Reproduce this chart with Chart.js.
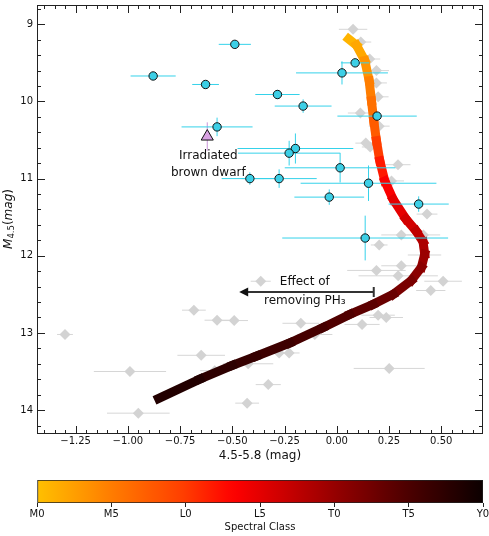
<!DOCTYPE html>
<html>
<head>
<meta charset="utf-8">
<script src="https://cdn.jsdelivr.net/npm/chart.js@4.4.1/dist/chart.umd.min.js"></script>
<style>
  body { margin: 0; background: #fff; overflow: hidden; }
  canvas { display: block; }
</style>
</head>
<body>
<canvas id="main" width="489" height="470"></canvas>
<canvas id="cbar" width="495" height="66"></canvas>
<script>
// observed objects (cyan circles)
const obsX    = [-0.488, -0.879, -0.628, -0.573, 0.088, 0.025, -0.284, -0.161, 0.193, -0.198, -0.228, 0.016, -0.416, -0.276, 0.152, -0.036, 0.392, 0.136];
const obsY    = [9.26, 9.67, 9.78, 10.33, 9.50, 9.63, 9.91, 10.06, 10.19, 10.61, 10.67, 10.86, 11.00, 11.00, 11.06, 11.24, 11.33, 11.77];
const obsXErr = [0.077, 0.108, 0.064, 0.17, 0.068, 0.22, 0.106, 0.136, 0.19, 0.277, 0.245, 0.265, 0.135, 0.18, 0.325, 0.167, 0.144, 0.397];
const obsYErr = [0.03, 0.035, 0.03, 0.12, 0.05, 0.15, 0.06, 0.087, 0.04, 0.195, 0.16, 0.19, 0.08, 0.12, 0.23, 0.1, 0.1, 0.29];

// field brown dwarfs (grey diamonds)
const fieldX    = [0.078, 0.115, 0.158, 0.19, 0.19, 0.198, 0.113, 0.203, 0.139, 0.16, 0.293, 0.262, 0.432, 0.309, 0.415, 0.203, 0.420, 0.309, 0.19, 0.294, 0.509, 0.45, -0.364, 0.198, 0.237, -0.172, 0.121, -0.105, -0.276, -0.228, -0.424, 0.251, -0.328, -0.429, -0.684, -0.573, -0.491, -1.301, -0.649, -0.99, -0.584, -0.95];
const fieldY    = [9.065, 9.23, 9.45, 9.60, 9.76, 9.94, 10.15, 10.32, 10.54, 10.59, 10.82, 11.03, 11.46, 11.73, 11.73, 11.86, 11.99, 12.13, 12.19, 12.26, 12.33, 12.45, 12.33, 12.77, 12.80, 12.875, 12.89, 13.02, 13.26, 13.26, 13.40, 13.46, 13.67, 13.91, 12.705, 12.835, 12.84, 13.02, 13.29, 13.50, 13.49, 14.04];
const fieldXErr = [0.068, 0.05, 0.05, 0.06, 0.05, 0.05, 0.06, 0.05, 0.05, 0.04, 0.06, 0.06, 0.05, 0.096, 0.08, 0.04, 0.08, 0.096, 0.14, 0.19, 0.09, 0.07, 0.048, 0.08, 0.08, 0.088, 0.084, 0.084, 0.05, 0.05, 0.12, 0.17, 0.06, 0.057, 0.057, 0.06, 0.066, 0.038, 0.114, 0.173, 0.07, 0.15];

// irradiated brown dwarf
const irrX = [-0.62];
const irrY = [10.455];
const irrYErr = [0.184];

// model sequence, spectral class 0 = M0 ... 6 = Y0
const seqX   = [0.057, 0.094, 0.134, 0.155, 0.166, 0.177, 0.19, 0.206, 0.23, 0.27, 0.33, 0.38, 0.413, 0.421, 0.405, 0.357, 0.27, 0.174, 0.062, -0.065, -0.225, -0.384, -0.5, -0.656, -0.853];
const seqY   = [9.19, 9.27, 9.47, 9.73, 9.99, 10.25, 10.51, 10.77, 11.03, 11.27, 11.52, 11.68, 11.82, 11.98, 12.15, 12.32, 12.5, 12.63, 12.76, 12.93, 13.13, 13.30, 13.42, 13.6, 13.85];
const seqSpt = [0.1, 0.25, 0.5, 0.85, 1.1, 1.3, 1.75, 2.2, 2.55, 2.85, 3.1, 3.35, 3.6, 3.85, 4.05, 4.25, 4.5, 4.7, 4.85, 5.0, 5.15, 5.3, 5.4, 5.55, 5.75];

const sptLabels = ['M0', 'M5', 'L0', 'L5', 'T0', 'T5', 'Y0'];

// colormap
const cmapPos = [0, 0.166, 0.333, 0.44, 0.5, 0.667, 0.833, 1];
const cmapRgb = [[255,192,0],[255,125,0],[255,60,0],[255,0,0],[228,0,0],[150,0,0],[75,0,0],[12,0,0]];
function cmap(t) {
  t = Math.min(1, Math.max(0, t));
  let i = 1;
  while (i < cmapPos.length - 1 && t > cmapPos[i]) i++;
  const f = (t - cmapPos[i-1]) / (cmapPos[i] - cmapPos[i-1]);
  const c = cmapRgb[i-1].map((v, k) => Math.round(v + f * (cmapRgb[i][k] - v)));
  return `rgb(${c[0]},${c[1]},${c[2]})`;
}

Chart.defaults.font.family = '"DejaVu Sans", sans-serif';
Chart.defaults.font.size = 10;
Chart.defaults.color = '#111';

const pts = (xs, ys) => xs.map((x, i) => ({x: x, y: ys[i]}));

// error bars are drawn right before their own dataset
const errorBars = {
  id: 'errorBars',
  beforeDatasetDraw(chart, args) {
    const ds = chart.data.datasets[args.index];
    if (!ds.xErr && !ds.yErr) return;
    const {ctx, scales: {x, y}} = chart;
    ctx.save();
    ctx.strokeStyle = ds.errColor;
    ctx.lineWidth = 1;
    ds.data.forEach((p, i) => {
      const px = x.getPixelForValue(p.x), py = y.getPixelForValue(p.y);
      ctx.beginPath();
      if (ds.xErr && ds.xErr[i]) {
        ctx.moveTo(x.getPixelForValue(p.x - ds.xErr[i]), py);
        ctx.lineTo(x.getPixelForValue(p.x + ds.xErr[i]), py);
      }
      if (ds.yErr && ds.yErr[i]) {
        ctx.moveTo(px, y.getPixelForValue(p.y - ds.yErr[i]));
        ctx.lineTo(px, y.getPixelForValue(p.y + ds.yErr[i]));
      }
      ctx.stroke();
    });
    ctx.restore();
  }
};

const minorX = 0.05, minorY = 0.2;

const decorations = {
  id: 'decorations',
  afterDatasetsDraw(chart) {
    const {ctx, scales: {x, y}} = chart;
    ctx.save();
    ctx.fillStyle = '#111';
    ctx.font = '12px "DejaVu Sans"';
    ctx.textAlign = 'center';
    ctx.textBaseline = 'middle';
    ctx.fillText('Irradiated', x.getPixelForValue(-0.615), y.getPixelForValue(10.71));
    ctx.fillText('brown dwarf', x.getPixelForValue(-0.615), y.getPixelForValue(10.92));
    ctx.fillText('Effect of', x.getPixelForValue(-0.153), y.getPixelForValue(12.34));
    ctx.fillText('removing PH\u2083', x.getPixelForValue(-0.153), y.getPixelForValue(12.59));

    // arrow
    const ay = y.getPixelForValue(12.47);
    const x0 = x.getPixelForValue(0.177), x1 = x.getPixelForValue(-0.467);
    ctx.strokeStyle = '#333';
    ctx.fillStyle = '#111';
    ctx.lineWidth = 2;
    ctx.beginPath();
    ctx.moveTo(x0, ay); ctx.lineTo(x1 + 6, ay);
    ctx.moveTo(x0, ay - 5); ctx.lineTo(x0, ay + 5);
    ctx.stroke();
    ctx.beginPath();
    ctx.moveTo(x1, ay); ctx.lineTo(x1 + 9, ay - 4.5); ctx.lineTo(x1 + 9, ay + 4.5);
    ctx.closePath();
    ctx.fill();
    ctx.restore();
  },
  afterDraw(chart) {
    const {ctx, chartArea: a, scales: {x, y}} = chart;
    ctx.save();
    ctx.strokeStyle = '#222';
    ctx.lineWidth = 1;
    ctx.strokeRect(a.left + 0.5, a.top + 0.5, a.right - a.left - 1, a.bottom - a.top - 1);
    ctx.beginPath();
    const xt = (v, len) => {
      const p = Math.round(x.getPixelForValue(v)) + 0.5;
      ctx.moveTo(p, a.bottom); ctx.lineTo(p, a.bottom - len);
      ctx.moveTo(p, a.top); ctx.lineTo(p, a.top + len);
    };
    const yt = (v, len) => {
      const p = Math.round(y.getPixelForValue(v)) + 0.5;
      ctx.moveTo(a.left, p); ctx.lineTo(a.left + len, p);
      ctx.moveTo(a.right, p); ctx.lineTo(a.right - len, p);
    };
    x.ticks.forEach(t => xt(t.value, 8));
    y.ticks.forEach(t => yt(t.value, 8));
    for (let k = Math.ceil(x.min / minorX); k <= Math.floor(x.max / minorX); k++) {
      if (k % 5 !== 0) xt(k * minorX, 4);
    }
    for (let k = Math.ceil(y.min / minorY); k <= Math.floor(y.max / minorY); k++) {
      if (k % 5 !== 0) yt(k * minorY, 4);
    }
    ctx.stroke();

    // y label M_{4.5}(mag)
    ctx.translate(12, 219);
    ctx.rotate(-Math.PI / 2);
    ctx.fillStyle = '#111';
    ctx.textBaseline = 'alphabetic';
    const parts = [
      {t: 'M', f: 'italic 12px "DejaVu Sans"', dy: 0},
      {t: '4.5', f: '8.5px "DejaVu Sans"', dy: 2},
      {t: '(', f: '12px "DejaVu Sans"', dy: 0},
      {t: 'mag', f: 'italic 12px "DejaVu Sans"', dy: 0},
      {t: ')', f: '12px "DejaVu Sans"', dy: 0}
    ];
    let total = 0;
    parts.forEach(p => { ctx.font = p.f; p.w = ctx.measureText(p.t).width; total += p.w; });
    let cx = -total / 2;
    parts.forEach(p => { ctx.font = p.f; ctx.fillText(p.t, cx, p.dy); cx += p.w; });
    ctx.restore();
  }
};

const fmt = v => {
  if (Math.abs(v) < 1e-9) return '0.00';
  return (v < 0 ? '\u2212' : '') + Math.abs(v).toFixed(2);
};

new Chart(document.getElementById('main'), {
  type: 'scatter',
  data: {
    datasets: [
      {
        label: 'Observed',
        data: pts(obsX, obsY),
        xErr: obsXErr, yErr: obsYErr, errColor: '#35d2ea',
        pointStyle: 'circle', pointRadius: 4.2,
        backgroundColor: '#3ccfe6', borderColor: '#111', borderWidth: 1
      },
      {
        label: 'Irradiated',
        data: pts(irrX, irrY),
        yErr: irrYErr, errColor: '#c894d8',
        pointStyle: 'triangle', pointRadius: 7,
        backgroundColor: '#d9a2e3', borderColor: '#111', borderWidth: 1
      },
      {
        type: 'line',
        label: 'Sequence',
        data: pts(seqX, seqY),
        borderWidth: 9,
        borderColor: cmap(0),
        borderCapStyle: 'square',
        pointRadius: 0,
        tension: 0,
        segment: {
          borderColor: c => cmap((seqSpt[c.p0DataIndex] + seqSpt[c.p1DataIndex]) / 12)
        }
      },
      {
        label: 'Field',
        data: pts(fieldX, fieldY),
        xErr: fieldXErr, errColor: '#d6d6d6',
        pointStyle: 'rectRot', pointRadius: 5.5,
        backgroundColor: '#d3d3d3', borderColor: '#d3d3d3', borderWidth: 0
      }
    ]
  },
  options: {
    responsive: false,
    animation: false,
    // no extra room for big markers, the box must sit exactly where the reference has it
    layout: {autoPadding: false, padding: {top: 5, right: 6, left: 0, bottom: 0}},
    plugins: {legend: {display: false}, tooltip: {enabled: false}},
    scales: {
      x: {
        min: -1.435, max: 0.70,
        afterFit: s => { s.height = 36; s.paddingLeft = 0; s.paddingRight = 0; },
        grid: {display: false, drawTicks: false},
        border: {display: false},
        ticks: {stepSize: 0.25, includeBounds: false, autoSkip: false, maxRotation: 0, padding: 1, callback: v => fmt(v)},
        title: {display: true, text: '4.5-5.8 (mag)', font: {size: 12}, padding: {top: 0, bottom: 7}}
      },
      y: {
        reverse: true,
        min: 8.75, max: 14.31,
        afterFit: s => { s.width = 37; s.paddingTop = 0; s.paddingBottom = 0; },
        grid: {display: false, drawTicks: false},
        border: {display: false},
        ticks: {stepSize: 1, includeBounds: false, autoSkip: false, padding: 4}
      }
    }
  },
  plugins: [errorBars, decorations]
});

// colour bar
new Chart(document.getElementById('cbar'), {
  type: 'bar',
  data: {
    labels: [''],
    datasets: [{
      data: [[0, sptLabels.length - 1]],
      backgroundColor: c => {
        const a = c.chart.chartArea;
        if (!a) return cmap(0.5);
        const g = c.chart.ctx.createLinearGradient(a.left, 0, a.right, 0);
        for (let i = 0; i <= 40; i++) g.addColorStop(i / 40, cmap(i / 40));
        return g;
      },
      borderColor: '#222', borderWidth: 1, borderSkipped: false,
      barPercentage: 1, categoryPercentage: 1
    }]
  },
  options: {
    indexAxis: 'y',
    responsive: false,
    animation: false,
    layout: {autoPadding: false, padding: {top: 10, right: 12, left: 37, bottom: 0}},
    plugins: {legend: {display: false}, tooltip: {enabled: false}},
    scales: {
      x: {
        type: 'linear', min: 0, max: sptLabels.length - 1,
        afterFit: s => { s.height = 33; s.paddingLeft = 0; s.paddingRight = 0; },
        grid: {drawOnChartArea: false, drawTicks: true, tickLength: 4, color: '#222'},
        border: {display: false},
        ticks: {stepSize: 1, autoSkip: false, maxRotation: 0, padding: 1, callback: v => sptLabels[v]},
        title: {display: true, text: 'Spectral Class', font: {size: 10}, padding: {top: 0, bottom: 3}}
      },
      y: {display: false}
    }
  }
});
</script>
</body>
</html>
